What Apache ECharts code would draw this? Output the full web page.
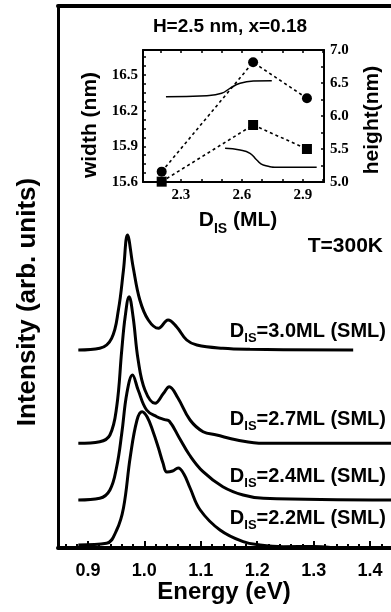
<!DOCTYPE html>
<html><head><meta charset="utf-8">
<script src="https://cdn.jsdelivr.net/npm/echarts@6/dist/echarts.min.js"></script>
<style>html,body{margin:0;padding:0;background:#fff}#c{width:391px;height:612px}</style>
</head><body><div id="c"></div>
<script>
// ---- Main panel: PL spectra (offset, arbitrary units) ----
const energy30 = [0.883,0.921,0.942,0.954,0.963,0.970,0.980,0.992,1.007,1.025,1.042,1.057,1.075,1.093,1.139,1.187,1.37];
const intens30 = [198,199.7,209.7,238,278,313,281.3,248,228,219.7,228,221.3,208,203,199.7,198.7,198];
const energy27 = [0.883,0.921,0.939,0.951,0.960,0.966,0.973,0.980,0.989,1.001,1.019,1.034,1.044,1.059,1.081,1.104,1.128,1.164,1.211,1.437];
const intens27 = [104.7,106.3,113,141.3,198,231.3,251.3,231.3,188,158,144.7,154.7,161.3,150.5,128,116.3,113,108,104.7,104.7];
const energy24 = [0.883,0.921,0.939,0.951,0.960,0.969,0.979,0.989,1.004,1.022,1.036,1.044,1.062,1.080,1.104,1.139,1.175,1.211,1.437];
const intens24 = [48,49.7,58,81.3,114.7,154.7,173,158,138,131.3,128.3,127,110,93,76.3,61.3,53,49.7,48];
const energy22 = [0.883,0.933,0.951,0.963,0.975,0.987,0.996,1.005,1.015,1.025,1.033,1.040,1.050,1.060,1.070,1.081,1.099,1.134,1.175,1.205,1.246,1.30,1.33];
const intens22 = [3,4.7,18,40,91,128,136.3,131,117,100,85,76,77,80,74,60,38,18,6.3,3,1.3,1.5,0.5];
const curveLabels = ['3.0','2.7','2.4','2.2'];
const energyTicks = [0.9,1.0,1.1,1.2,1.3,1.4];
const energyMinorTicks = [0.86,0.88,0.92,0.94,0.96,0.98,1.02,1.04,1.06,1.08,1.12,1.14,1.16,1.18,1.22,1.24,1.26,1.28,1.32,1.34,1.36,1.38,1.42];

// ---- Inset: width / height vs D_IS ----
const dis = [2.205,2.655,2.92];
const circleVals = [15.687,16.607,16.304];      // left axis (width)
const squareVals = [5.005,5.864,5.5];           // right axis (height)
const upperFitX = [2.226,2.427,2.50,2.541,2.591,2.656,2.747];
const upperFitY = [16.317,16.326,16.346,16.388,16.43,16.449,16.452];
const lowerFitX = [2.517,2.591,2.64,2.673,2.705,2.788,2.968];
const lowerFitY = [15.883,15.869,15.841,15.785,15.743,15.724,15.724];
const insetXLabels = [2.3,2.6,2.9];
const insetXTicks = [2.2,2.3,2.4,2.5,2.6,2.7,2.8,2.9,3.0];
const widthLabels = [15.6,15.9,16.2,16.5];
const widthTicks = [15.6,15.675,15.75,15.825,15.9,15.975,16.05,16.125,16.2,16.275,16.35,16.425,16.5,16.575,16.65];
const heightLabels = [5.0,5.5,6.0,6.5,7.0];
const heightTicks = [5.0,5.25,5.5,5.75,6.0,6.25,6.5,6.75,7.0];

const zip = (a,b)=>a.map((v,i)=>[v,b[i]]);
const SANS = '"Liberation Sans", Arial, sans-serif';
const SERIF = '"Liberation Serif", "Times New Roman", serif';

function dLabel(val, yTop){
  return {type:'text', x:386, y:yTop, z:100, style:{
    text:'{n|D}{s|IS}{n|='+val+'ML (SML)}', align:'right', verticalAlign:'top',
    rich:{
      n:{fontFamily:SANS, fontWeight:'bold', fontSize:20, fill:'#000', lineHeight:22, verticalAlign:'top'},
      s:{fontFamily:SANS, fontWeight:'bold', fontSize:13, fill:'#000', padding:[11,0,0,0], verticalAlign:'top'}
    }}};
}

const chart = echarts.init(document.getElementById('c'), null, {renderer:'canvas'});
const mainLine = {color:'#000', width:3};
const option = {
  animation:false,
  backgroundColor:'#fff',
  grid:[
    {left:58, top:6, right:0, bottom:64, containLabel:false},
    {left:143, top:50, right:67, bottom:430, show:true, backgroundColor:'#fff', borderWidth:0, z:10}
  ],
  xAxis:[
    {gridIndex:0, type:'value', min:0.847, max:1.437, position:'bottom',
     axisLine:{show:true, lineStyle:{color:'#000', width:4}},
     axisTick:{show:true, inside:true, length:7, customValues:energyTicks, lineStyle:{color:'#000', width:2}},
     axisLabel:{show:true, customValues:energyTicks, formatter:v=>v.toFixed(1), margin:14,
       fontFamily:SANS, fontWeight:'bold', fontSize:18, color:'#000'},
     splitLine:{show:false}},
    {gridIndex:0, type:'value', min:0.847, max:1.437, position:'bottom',
     axisLine:{show:false},
     axisTick:{show:true, inside:true, length:4, customValues:energyMinorTicks, lineStyle:{color:'#000', width:2}},
     axisLabel:{show:false}, splitLine:{show:false}},
    {gridIndex:0, type:'value', min:0.847, max:1.437, position:'top',
     axisLine:{show:true, lineStyle:{color:'#000', width:4}},
     axisTick:{show:false}, axisLabel:{show:false}, splitLine:{show:false}},
    {gridIndex:1, type:'value', min:2.113, max:3.004, position:'bottom', z:20,
     axisLine:{show:true, lineStyle:{color:'#000', width:2}},
     axisTick:{show:true, inside:true, length:3, customValues:insetXTicks, lineStyle:{color:'#000', width:1.5}},
     axisLabel:{show:true, customValues:insetXLabels, formatter:v=>v.toFixed(1), margin:6,
       fontFamily:SERIF, fontWeight:'bold', fontSize:15, color:'#000'},
     splitLine:{show:false}},
    {gridIndex:1, type:'value', min:2.113, max:3.004, position:'top', z:20,
     axisLine:{show:true, lineStyle:{color:'#000', width:2}},
     axisTick:{show:true, inside:true, length:3, customValues:insetXTicks, lineStyle:{color:'#000', width:1.5}},
     axisLabel:{show:false}, splitLine:{show:false}}
  ],
  yAxis:[
    {gridIndex:0, type:'value', min:0, max:542,
     axisLine:{show:true, lineStyle:{color:'#000', width:3}},
     axisTick:{show:false}, axisLabel:{show:false}, splitLine:{show:false}},
    {gridIndex:1, type:'value', min:15.6, max:16.71, position:'left', z:20,
     axisLine:{show:true, lineStyle:{color:'#000', width:2}},
     axisTick:{show:true, inside:true, length:3, customValues:widthTicks, lineStyle:{color:'#000', width:1.5}},
     axisLabel:{show:true, customValues:widthLabels, formatter:v=>v.toFixed(1), margin:5,
       fontFamily:SERIF, fontWeight:'bold', fontSize:15, color:'#000'},
     splitLine:{show:false}},
    {gridIndex:1, type:'value', min:5.0, max:7.0, position:'right', z:20,
     axisLine:{show:true, lineStyle:{color:'#000', width:2}},
     axisTick:{show:true, inside:true, length:3, customValues:heightTicks, lineStyle:{color:'#000', width:1.5}},
     axisLabel:{show:true, customValues:heightLabels, formatter:v=>v.toFixed(1), margin:6,
       fontFamily:SERIF, fontWeight:'bold', fontSize:15, color:'#000'},
     splitLine:{show:false}}
  ],
  series:[
    {type:'line', xAxisIndex:0, yAxisIndex:0, data:zip(energy30,intens30), smooth:0.4, showSymbol:false, lineStyle:mainLine},
    {type:'line', xAxisIndex:0, yAxisIndex:0, data:zip(energy27,intens27), smooth:0.4, showSymbol:false, lineStyle:mainLine},
    {type:'line', xAxisIndex:0, yAxisIndex:0, data:zip(energy24,intens24), smooth:0.4, showSymbol:false, lineStyle:mainLine},
    {type:'line', xAxisIndex:0, yAxisIndex:0, data:zip(energy22,intens22), smooth:0.4, showSymbol:false, lineStyle:mainLine},
    {type:'line', xAxisIndex:3, yAxisIndex:1, data:zip(upperFitX,upperFitY), smooth:0.5, showSymbol:false, z:15,
     lineStyle:{color:'#000', width:1.5}},
    {type:'line', xAxisIndex:3, yAxisIndex:1, data:zip(lowerFitX,lowerFitY), smooth:0.5, showSymbol:false, z:15,
     lineStyle:{color:'#000', width:1.5}},
    {type:'line', xAxisIndex:3, yAxisIndex:1, data:zip(dis,circleVals), symbol:'circle', symbolSize:10, showSymbol:true, clip:false, z:16,
     itemStyle:{color:'#000'}, lineStyle:{color:'#000', width:1.6, type:[3,3]}},
    {type:'line', xAxisIndex:3, yAxisIndex:2, data:zip(dis,squareVals), symbol:'rect', symbolSize:10, showSymbol:true, clip:false, z:16,
     itemStyle:{color:'#000'}, lineStyle:{color:'#000', width:1.6, type:[3,3]}}
  ],
  graphic:[
    {type:'text', x:230, y:27, z:100, style:{text:'H=2.5 nm, x=0.18', fontFamily:SANS, fontWeight:'bold', fontSize:19, fill:'#000', align:'center', verticalAlign:'middle'}},
    {type:'text', x:383, y:246, z:100, style:{text:'T=300K', fontFamily:SANS, fontWeight:'bold', fontSize:21, fill:'#000', align:'right', verticalAlign:'middle'}},
    {type:'text', x:90, y:125, rotation:Math.PI/2, z:100, style:{text:'width (nm)', fontFamily:SANS, fontWeight:'bold', fontSize:21, fill:'#000', align:'center', verticalAlign:'middle'}},
    {type:'text', x:372, y:120, rotation:Math.PI/2, z:100, style:{text:'height(nm)', fontFamily:SANS, fontWeight:'bold', fontSize:21, fill:'#000', align:'center', verticalAlign:'middle'}},
    {type:'text', x:238, y:210, z:100, style:{text:'{n|D}{s|IS}{n| (ML)}', align:'center', verticalAlign:'top',
      rich:{n:{fontFamily:SANS, fontWeight:'bold', fontSize:21, fill:'#000', lineHeight:23, verticalAlign:'top'},
            s:{fontFamily:SANS, fontWeight:'bold', fontSize:14, fill:'#000', padding:[12,0,0,0], verticalAlign:'top'}}}},
    {type:'text', x:28, y:302, rotation:Math.PI/2, z:100, style:{text:'Intensity (arb. units)', fontFamily:SANS, fontWeight:'bold', fontSize:26, fill:'#000', align:'center', verticalAlign:'middle'}},
    {type:'text', x:224, y:592, z:100, style:{text:'Energy (eV)', fontFamily:SANS, fontWeight:'bold', fontSize:24, fill:'#000', align:'center', verticalAlign:'middle'}},
    dLabel(curveLabels[0], 321),
    dLabel(curveLabels[1], 409),
    dLabel(curveLabels[2], 466),
    dLabel(curveLabels[3], 508)
  ]
};
chart.setOption(option);
</script>
</body></html>
